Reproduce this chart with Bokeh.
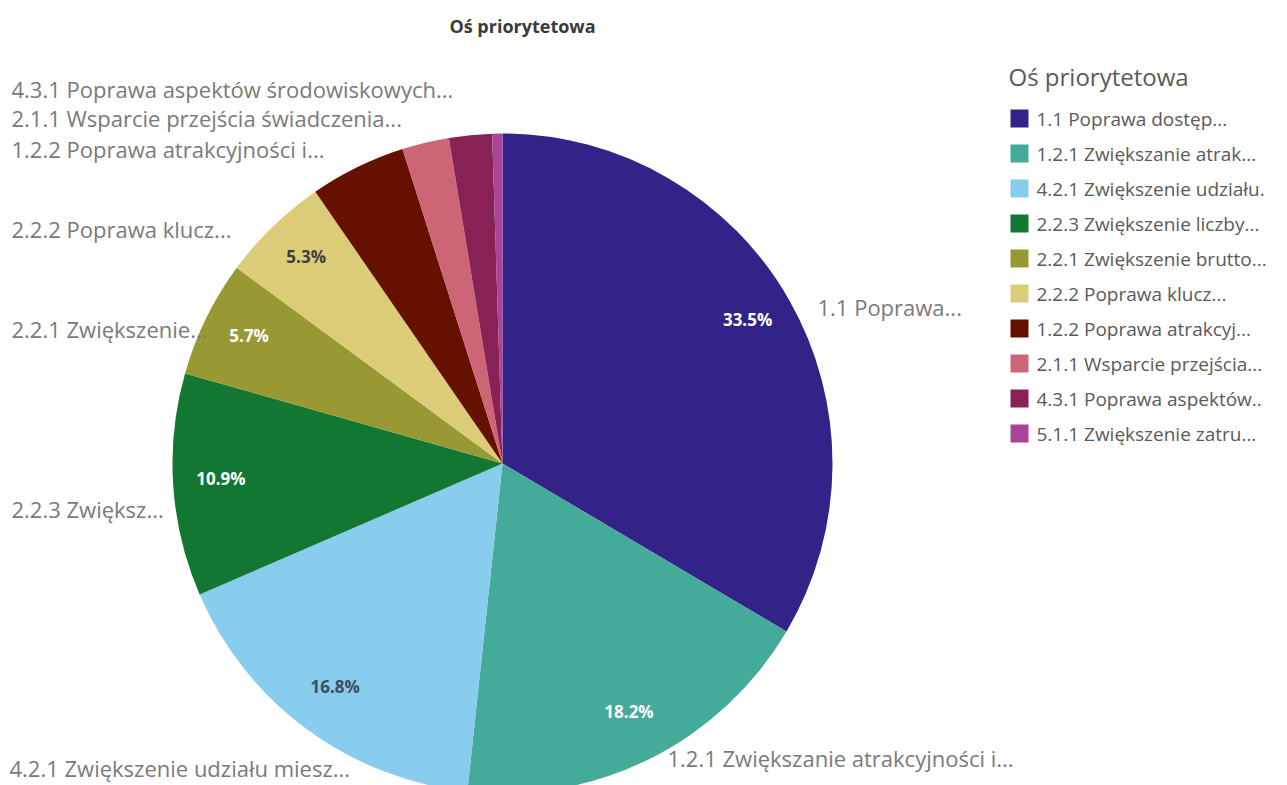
import numpy as np
from bokeh.plotting import figure
from bokeh.models import ColumnDataSource, Range1d
from bokeh.core.properties import value
from bokeh.embed import file_html
from bokeh.resources import INLINE

# ---------------- data ----------------
title = "Oś priorytetowa"
legend_labels = [
    "1.1 Poprawa dostęp...",
    "1.2.1 Zwiększanie atrak...",
    "4.2.1 Zwiększenie udziału.",
    "2.2.3 Zwiększenie liczby...",
    "2.2.1 Zwiększenie brutto...",
    "2.2.2 Poprawa klucz...",
    "1.2.2 Poprawa atrakcyj...",
    "2.1.1 Wsparcie przejścia...",
    "4.3.1 Poprawa aspektów..",
    "5.1.1 Zwiększenie zatru...",
]
outer_labels = [
    "1.1 Poprawa...",
    "1.2.1 Zwiększanie atrakcyjności i...",
    "4.2.1 Zwiększenie udziału miesz...",
    "2.2.3 Zwiększ...",
    "2.2.1 Zwiększenie...",
    "2.2.2 Poprawa klucz...",
    "1.2.2 Poprawa atrakcyjności i...",
    "2.1.1 Wsparcie przejścia świadczenia...",
    "4.3.1 Poprawa aspektów środowiskowych...",
    "",
]
shares = [33.5, 18.2, 16.8, 10.9, 5.7, 5.3, 4.7, 2.3, 2.1, 0.5]

# ---------------- style ----------------
colors = ["#332288", "#44AA99", "#88CCEE", "#117733", "#999933",
          "#DDCC77", "#661100", "#CC6677", "#882255", "#AA4499"]
pct_colors = ["#ffffff", "#ffffff", "#3a4f60", "#ffffff", "#ffffff",
              "#404040", "#ffffff", "#ffffff", "#ffffff", "#ffffff"]
FONT = "Open Sans"
W, H = 1287, 785
# window coords -> data coords: x = wx, y = H - wy
cx, cy, R = 502, H - 463, 330
label_r = 0.855 * R
# outer label anchors (window px): left x, middle y
outer_pos = [(817, 306), (667, 757), (9, 767), (11, 508), (11, 328),
             (11, 228), (11, 148), (11, 117), (11, 88), (0, 0)]

vals = np.array(shares, dtype=float)
frac = vals / vals.sum()
cum_end = np.cumsum(frac)
cum_start = cum_end - frac
start_a = np.pi / 2 - 2 * np.pi * cum_start
end_a = np.pi / 2 - 2 * np.pi * cum_end
mid_a = (start_a + end_a) / 2

src = ColumnDataSource(dict(start=start_a, end=end_a, color=colors, name=legend_labels))

p = figure(width=W, height=H, output_backend="svg", toolbar_location=None,
           x_range=Range1d(0, W), y_range=Range1d(0, H),
           min_border=0, outline_line_color=None)
p.axis.visible = False
p.grid.visible = False
p.background_fill_color = "white"

p.wedge(x=cx, y=cy, radius=R, start_angle="start", end_angle="end",
        direction="clock", fill_color="color", line_color=None, source=src)

# percentage labels inside slices (shown for slices >= 5%)
show = [v >= 5 for v in shares]
px = [cx + label_r * np.cos(a) for a, s in zip(mid_a, show) if s]
py = [cy + label_r * np.sin(a) + 4 for a, s in zip(mid_a, show) if s]
pt = [f"{v:.1f}%" for v, s in zip(shares, show) if s]
pc = [c for c, s in zip(pct_colors, show) if s]
p.text(x=px, y=py, text=pt, text_color=pc, text_font=value(FONT),
       text_font_size="17px", text_font_style="bold",
       text_align="center", text_baseline="middle")

# outer category labels
ox = [pos[0] for pos, t in zip(outer_pos, outer_labels) if t]
oy = [H - pos[1] for pos, t in zip(outer_pos, outer_labels) if t]
ot = [t for t in outer_labels if t]
p.text(x=ox, y=oy, text=ot, text_color="#7a7a7a", text_font=value(FONT),
       text_font_size="22px", text_align="left", text_baseline="middle")

# title
p.text(x=[522], y=[H - 25], text=[title], text_color="#3a3a3a",
       text_font=value(FONT), text_font_size="18px", text_font_style="bold",
       text_align="center", text_baseline="middle")

# legend
p.text(x=[1008], y=[H - 76], text=[title], text_color="#5a5a5a",
       text_font=value(FONT), text_font_size="24px",
       text_align="left", text_baseline="middle")
n = len(legend_labels)
ly = [H - (118 + 35 * i) for i in range(n)]
p.rect(x=[1019] * n, y=ly, width=18, height=18, fill_color=colors, line_color=None)
p.text(x=[1036] * n, y=ly, text=legend_labels, text_color="#5a5a5a",
       text_font=value(FONT), text_font_size="19px",
       text_align="left", text_baseline="middle")

open("out.html", "w").write(file_html(p, INLINE))
